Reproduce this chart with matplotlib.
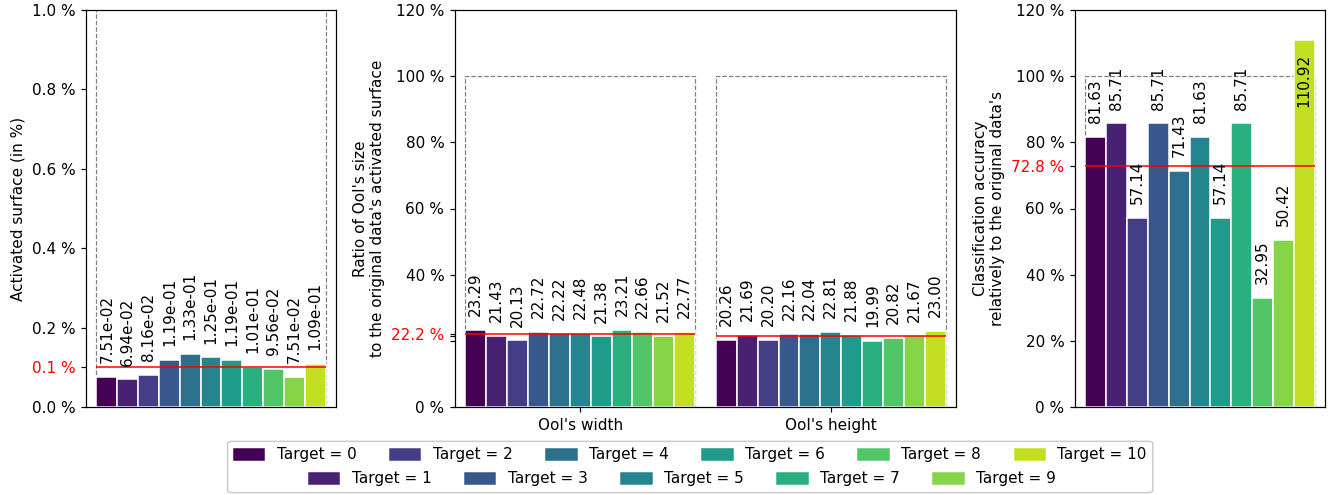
import numpy as np
import matplotlib
matplotlib.use("Agg")
import matplotlib.pyplot as plt
from matplotlib.patches import Patch, FancyBboxPatch
from matplotlib.transforms import Bbox

targets = list(range(11))
surface = [7.51e-02, 6.94e-02, 8.16e-02, 1.19e-01, 1.33e-01, 1.25e-01,
           1.19e-01, 1.01e-01, 9.56e-02, 7.51e-02, 1.09e-01]
width_ratio = [23.29, 21.43, 20.13, 22.72, 22.22, 22.48, 21.38, 23.21, 22.66, 21.52, 22.77]
height_ratio = [20.26, 21.69, 20.20, 22.16, 22.04, 22.81, 21.88, 19.99, 20.82, 21.67, 23.00]
accuracy = [81.63, 85.71, 57.14, 85.71, 71.43, 81.63, 57.14, 85.71, 32.95, 50.42, 110.92]
group_names = ["OoI's width", "OoI's height"]

colors = plt.cm.viridis(np.arange(len(targets)) / len(targets))
n = len(targets)


def draw_group(ax, x0, values, fmt, box_top=100):
    xs = x0 + np.arange(n)
    ax.bar(xs, values, width=1, color=colors, edgecolor="white", linewidth=1)
    # dashed reference box (100 %)
    ax.plot([x0 - 0.5, x0 - 0.5, x0 + n - 0.5, x0 + n - 0.5],
            [0, box_top, box_top, 0], ls="--", lw=0.8, color="gray", zorder=0.5)
    m = np.mean(values)
    ax.hlines(m, x0 - 0.5, x0 + n - 0.5, color="red", lw=1, zorder=3)
    for x, v in zip(xs, values):
        if v > box_top:
            ax.annotate(fmt.format(v), (x, v), xytext=(0, -9), textcoords="offset points",
                        rotation=90, ha="center", va="top")
        else:
            ax.annotate(fmt.format(v), (x, v), xytext=(0, 9), textcoords="offset points",
                        rotation=90, ha="center", va="bottom")
    return m


def set_ticks(ax, ticks, labels, red_idx):
    ax.set_yticks(ticks)
    ax.set_yticklabels(labels)
    for i in red_idx:
        ax.get_yticklabels()[i].set_color("red")


W, H = 1336, 495
fig = plt.figure(figsize=(W / 110, H / 110), dpi=110)
ax1 = fig.add_axes([86 / W, 1 - 407 / H, 250 / W, 397 / H])
ax2 = fig.add_axes([455 / W, 1 - 407 / H, 501 / W, 397 / H])
ax3 = fig.add_axes([1075 / W, 1 - 407 / H, 250 / W, 397 / H])

# activated surface
m1 = draw_group(ax1, 0, surface, "{:.2e}")
ax1.set_xlim(-1, n)
ax1.set_ylim(0, 1.0)
set_ticks(ax1, [0, m1, 0.2, 0.4, 0.6, 0.8, 1.0],
          ["0.0 %", f"{m1:.1f} %", "0.2 %", "0.4 %", "0.6 %", "0.8 %", "1.0 %"], [1])
ax1.set_xticks([])
ax1.set_ylabel("Activated surface (in %)")

# OoI size ratio
mw = draw_group(ax2, 0, width_ratio, "{:.2f}")
mh = draw_group(ax2, n + 1, height_ratio, "{:.2f}")
ax2.set_xlim(-1, 2 * n + 1)
ax2.set_ylim(0, 120)
set_ticks(ax2, [0, 20, mh, mw, 40, 60, 80, 100, 120],
          ["0 %", "", "", f"{mw:.1f} %", "40 %", "60 %", "80 %", "100 %", "120 %"], [3])
ax2.set_xticks([(n - 1) / 2, n + 1 + (n - 1) / 2])
ax2.set_xticklabels(group_names)
ax2.set_ylabel("Ratio of OoI's size\nto the original data's activated surface")

# classification accuracy
m3 = draw_group(ax3, 0, accuracy, "{:.2f}")
ax3.set_xlim(-1, n)
ax3.set_ylim(0, 120)
set_ticks(ax3, [0, 20, 40, 60, m3, 80, 100, 120],
          ["0 %", "20 %", "40 %", "60 %", f"{m3:.1f} %", "80 %", "100 %", "120 %"], [4])
ax3.set_xticks([])
ax3.set_ylabel("Classification accuracy\nrelatively to the original data's")

# legend: two staggered rows inside one frame
handles = [Patch(color=colors[t], label=f"Target = {t}") for t in targets]
leg1 = fig.legend(handles=handles[0::2], ncol=6, loc="center left", columnspacing=2.2,
                  bbox_to_anchor=(220 / W, (H - 455) / H), frameon=False)
leg2 = fig.legend(handles=handles[1::2], ncol=5, loc="center left", columnspacing=2.2,
                  bbox_to_anchor=(295 / W, (H - 479) / H), frameon=False)
fig.canvas.draw()
r = fig.canvas.get_renderer()
bb = Bbox.union([leg1.get_window_extent(r), leg2.get_window_extent(r)])
bb = bb.transformed(fig.transFigure.inverted())
frame = FancyBboxPatch((bb.x0, bb.y0), bb.width, bb.height,
                       boxstyle="round,pad=0,rounding_size=0.004",
                       transform=fig.transFigure, facecolor="white",
                       edgecolor="0.8", lw=1, zorder=0)
fig.patches.append(frame)

fig.savefig("out.png", dpi=110)
